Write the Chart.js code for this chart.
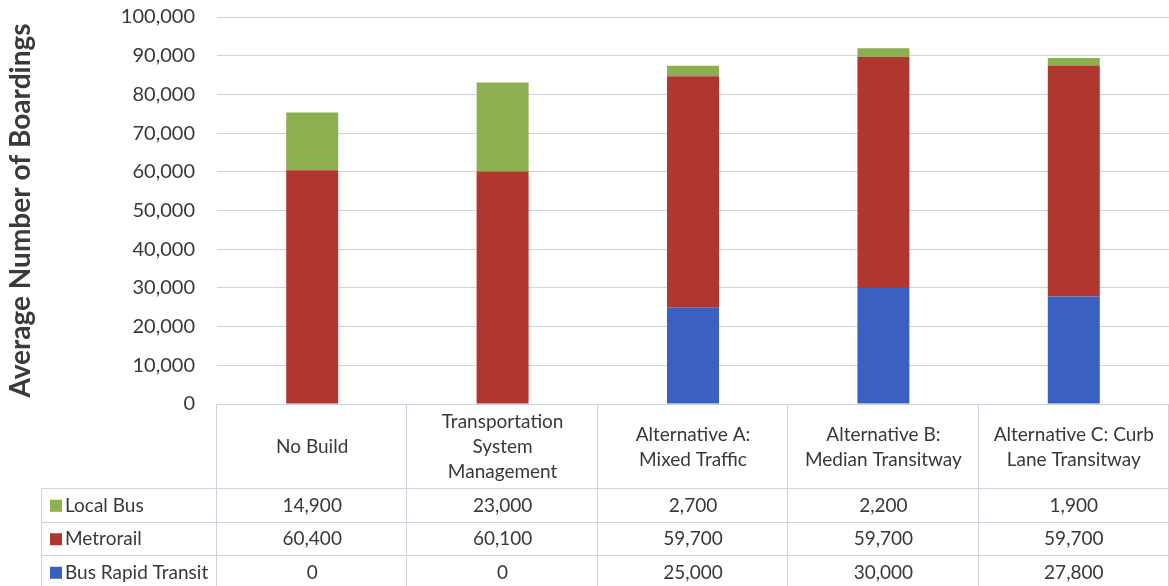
<!DOCTYPE html>
<html>
<head>
<meta charset="utf-8">
<script src="https://cdn.jsdelivr.net/npm/chart.js@4/dist/chart.umd.min.js"></script>
<style>
html,body{margin:0;padding:0;background:#ffffff;}
#wrap{width:1169px;height:586px;position:relative;}
</style>
</head>
<body>
<div id="wrap"><canvas id="c" width="1169" height="586"></canvas></div>
<script>
const categories = [
  ["No Build"],
  ["Transportation", "System", "Management"],
  ["Alternative A:", "Mixed Traffic"],
  ["Alternative B:", "Median Transitway"],
  ["Alternative C: Curb", "Lane Transitway"]
];
const seriesNames = ["Local Bus", "Metrorail", "Bus Rapid Transit"];
const localBus = [14900, 23000, 2700, 2200, 1900];
const metrorail = [60400, 60100, 59700, 59700, 59700];
const busRapidTransit = [0, 0, 25000, 30000, 27800];
const yTicks = [0, 10000, 20000, 30000, 40000, 50000, 60000, 70000, 80000, 90000, 100000];

const colors = { local: "#8caf4f", metro: "#b0372f", brt: "#3a60c1" };
const txt = "#383838";
const lineCol = "#cdd3de";
const FONT = "Lato, 'Liberation Sans', sans-serif";

const fmt = v => v.toLocaleString("en-US");

const tableRows = [
  { name: seriesNames[0], color: colors.local, values: localBus },
  { name: seriesNames[1], color: colors.metro, values: metrorail },
  { name: seriesNames[2], color: colors.brt, values: busRapidTransit }
];

const tablePlugin = {
  id: "dataTable",
  afterDraw(chart) {
    const ctx = chart.ctx;
    const x = chart.scales.x;
    const area = chart.chartArea;
    const colW = (area.right - area.left) / categories.length;
    const top = area.bottom;
    const headerBottom = 488;
    const rowH = 33.5;
    const labelLeft = 41;
    ctx.save();
    ctx.strokeStyle = lineCol;
    ctx.lineWidth = 1;
    ctx.beginPath();
    ctx.moveTo(area.left, top + 0.5); ctx.lineTo(area.right, top + 0.5);
    for (let r = 0; r <= tableRows.length; r++) {
      const yy = Math.round(headerBottom + r * rowH) + 0.5;
      ctx.moveTo(labelLeft, yy); ctx.lineTo(area.right, yy);
    }
    ctx.moveTo(labelLeft + 0.5, headerBottom); ctx.lineTo(labelLeft + 0.5, 586);
    for (let i = 0; i <= categories.length; i++) {
      const xx = Math.round(area.left + i * colW) - 0.5;
      ctx.moveTo(xx, top); ctx.lineTo(xx, 586);
    }
    ctx.stroke();

    ctx.fillStyle = txt;
    ctx.font = "19px " + FONT;
    ctx.textAlign = "center";
    ctx.textBaseline = "middle";
    const hMid = (top + headerBottom) / 2 + 1;
    const lh = 25;
    categories.forEach((lines, i) => {
      const cx = x.getPixelForValue(i);
      const start = hMid - (lines.length - 1) * lh / 2;
      lines.forEach((l, k) => ctx.fillText(l, cx, start + k * lh));
    });

    tableRows.forEach((row, r) => {
      const cy = headerBottom + r * rowH + rowH / 2 + 1;
      ctx.fillStyle = row.color;
      ctx.fillRect(50, cy - 6, 12, 12);
      ctx.fillStyle = txt;
      ctx.textAlign = "left";
      ctx.fillText(row.name, 65, cy);
      ctx.textAlign = "center";
      row.values.forEach((v, i) => {
        ctx.fillText(fmt(v), x.getPixelForValue(i), cy);
      });
    });
    ctx.restore();
  }
};

new Chart(document.getElementById("c"), {
  type: "bar",
  data: {
    labels: categories.map(l => l.join(" ")),
    datasets: [
      { label: seriesNames[2], data: busRapidTransit, backgroundColor: colors.brt },
      { label: seriesNames[1], data: metrorail, backgroundColor: colors.metro },
      { label: seriesNames[0], data: localBus, backgroundColor: colors.local }
    ]
  },
  options: {
    responsive: false,
    animation: false,
    layout: { padding: { top: 17, right: 0, bottom: 182, left: 0 } },
    datasets: { bar: { barPercentage: 0.273, categoryPercentage: 1.0 } },
    plugins: { legend: { display: false }, tooltip: { enabled: false } },
    scales: {
      x: { stacked: true, display: false },
      y: {
        stacked: true,
        min: 0, max: 100000,
        afterBuildTicks(s) { s.ticks = yTicks.map(v => ({ value: v })); },
        afterFit(s) { s.width = 217; },
        border: { display: false },
        grid: { color: lineCol, drawTicks: true, tickLength: 20, tickColor: "rgba(0,0,0,0)" },
        ticks: {
          padding: 2,
          color: txt,
          font: { family: FONT, size: 20 },
          callback: v => fmt(v)
        },
        title: {
          display: true,
          text: "Average Number of Boardings",
          color: "#3a3a3a",
          font: { family: FONT, size: 28, weight: "bold" },
          padding: { top: 4, bottom: 0 }
        }
      }
    }
  },
  plugins: [tablePlugin]
});
</script>
</body>
</html>
